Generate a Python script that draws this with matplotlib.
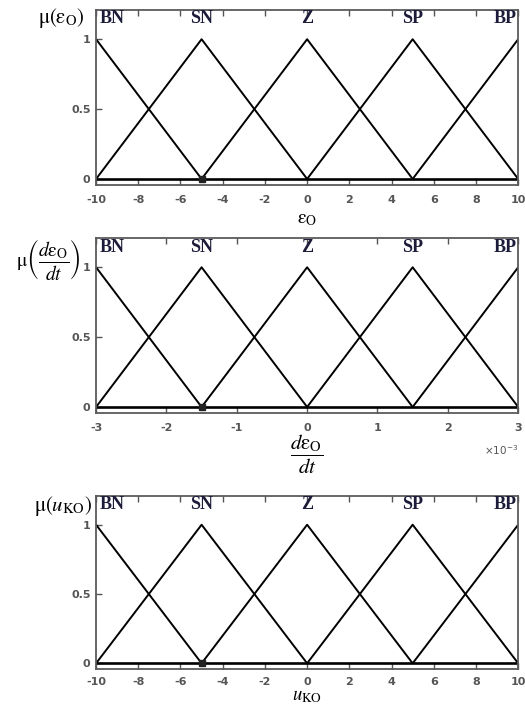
import numpy as np
import matplotlib
matplotlib.use('Agg')
import matplotlib.pyplot as plt
from matplotlib.ticker import FuncFormatter

# membership function centres for each variable
centres_e = [-10, -5, 0, 5, 10]
centres_de = [-3e-3, -1.5e-3, 0, 1.5e-3, 3e-3]
centres_u = [-10, -5, 0, 5, 10]
set_names = ['BN', 'SN', 'Z', 'SP', 'BP']
mu_levels = [0, 0.5, 1]

xticks_e = [-10, -8, -6, -4, -2, 0, 2, 4, 6, 8, 10]
xticks_de = [-3e-3, -2e-3, -1e-3, 0, 1e-3, 2e-3, 3e-3]
xticks_u = [-10, -8, -6, -4, -2, 0, 2, 4, 6, 8, 10]

plt.rcParams['mathtext.fontset'] = 'stix'
plt.rcParams['axes.unicode_minus'] = False

fig = plt.figure(figsize=(5.25, 7.06), dpi=100)

tick_grey = '#555555'
name_col = '#1c1c3a'


def draw_panel(ax, c, xticks, ylab, ylab_pos, ylab_size, xlab, xlab_pad, xlab_size):
    # triangular sets, shoulders at the ends
    for i in range(len(c)):
        xs, ys = [], []
        if i > 0:
            xs.append(c[i - 1]); ys.append(0)
        xs.append(c[i]); ys.append(1)
        if i < len(c) - 1:
            xs.append(c[i + 1]); ys.append(0)
        ax.plot(xs, ys, color='black', lw=1.4, solid_capstyle='butt')
    ax.plot([c[0], c[-1]], [0, 0], color='black', lw=1.9)
    ax.plot([c[1]], [0], marker='s', ms=4, color='#222222')

    ax.set_xlim(c[0], c[-1])
    ax.set_ylim(-0.043, 1.21)
    ax.set_xticks(xticks)
    ax.set_yticks(mu_levels)
    ax.set_yticklabels(['0', '0.5', '1'])
    ax.tick_params(direction='in', length=4, width=1, colors=tick_grey,
                   labelsize=8, top=True, pad=7)
    ax.tick_params(axis='y', pad=4)
    for sp in ax.spines.values():
        sp.set_color('#5a5a5a')
        sp.set_linewidth(1.3)

    # set names above peaks
    span = c[-1] - c[0]
    for i, name in enumerate(set_names):
        x = c[i]
        ha = 'center'
        if i == 0:
            x = c[0] + 0.008 * span
            ha = 'left'
        elif i == len(c) - 1:
            x = c[-1] - 0.004 * span
            ha = 'right'
        ax.text(x, 1.145, name, ha=ha, va='center', fontsize=13,
                family='Liberation Serif', fontweight='bold', color=name_col)

    ax.text(ylab_pos[0], ylab_pos[1], ylab, transform=ax.transAxes,
            ha='right', va='center', fontsize=ylab_size, color='black')
    ax.set_xlabel(xlab, fontsize=xlab_size, labelpad=xlab_pad)


def bold_ticks(ax):
    for lab in ax.get_xticklabels() + ax.get_yticklabels():
        lab.set_fontweight('bold')


ax1 = fig.add_axes([0.183, 0.738, 0.804, 0.248])
draw_panel(ax1, centres_e, xticks_e, r'$\mathrm{μ}(\mathrm{ε}_{\rm O})$',
           (-0.026, 0.955), 15, r'$\mathrm{ε}_{\rm O}$', 3, 14)
bold_ticks(ax1)

ax2 = fig.add_axes([0.183, 0.415, 0.804, 0.248])
draw_panel(ax2, centres_de, xticks_de,
           r'$\mathrm{μ}\left(\dfrac{d\mathrm{ε}_{\rm O}}{dt}\right)$',
           (-0.036, 0.875), 14, r'$\dfrac{d\mathrm{ε}_{\rm O}}{dt}$', 0, 15)
ax2.xaxis.set_major_formatter(FuncFormatter(lambda v, p: f'{v * 1e3:g}'))
bold_ticks(ax2)
ax2.text(1.0, -0.21, r'×10$^{\mathregular{-3}}$', transform=ax2.transAxes,
         ha='right', va='center', fontsize=7.5, color=tick_grey)

ax3 = fig.add_axes([0.183, 0.052, 0.804, 0.246])
draw_panel(ax3, centres_u, xticks_u, r'$\mathrm{μ}(u_{\rm KO})$',
           (-0.01, 0.94), 15, r'$u_{\rm KO}$', -1, 13.5)
ax3.tick_params(axis='x', pad=5.5)
bold_ticks(ax3)

fig.savefig('out.png', dpi=100, facecolor='white')
